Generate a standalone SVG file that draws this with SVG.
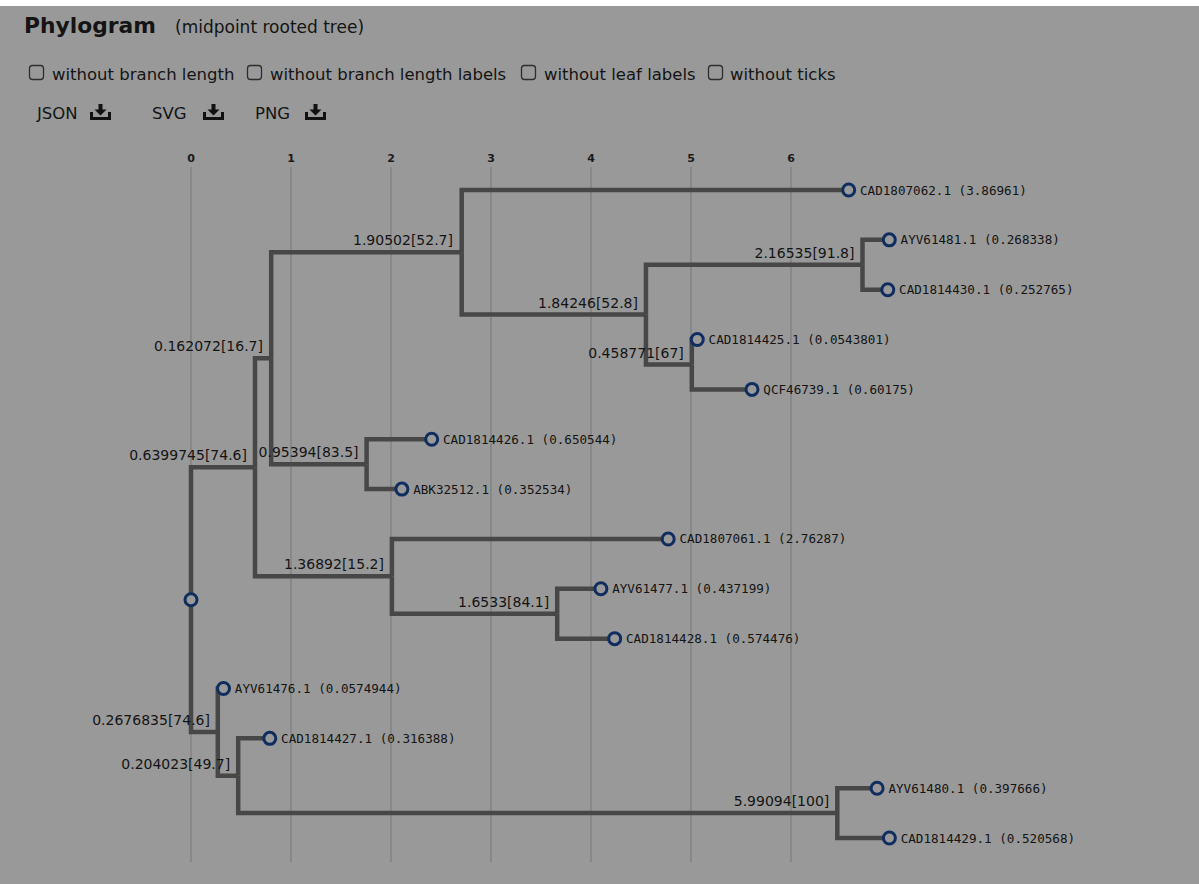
<svg xmlns="http://www.w3.org/2000/svg" width="1199" height="884" viewBox="0 0 1199 884">
<style>
.ui{font-family:"DejaVu Sans","Liberation Sans",sans-serif;fill:#141414}
.cb{fill:none;stroke:#2e2e2e;stroke-width:1.3}
.grid{stroke:#7c7c7c;stroke-width:1.2}
.tick{font-family:"DejaVu Sans","Liberation Sans",sans-serif;font-size:11px;font-weight:bold;fill:#1a1a1a;text-anchor:middle}
.br{fill:none;stroke:#474747;stroke-width:4.5;stroke-linejoin:miter}
.nd{fill:#999999;stroke:#0f2d5f;stroke-width:3}
.leaf{font-family:"DejaVu Sans Mono","Liberation Mono",monospace;font-size:12.6px;fill:#141414}
.bl{font-family:"DejaVu Sans","Liberation Sans",sans-serif;font-size:14px;fill:#141414;text-anchor:end}
.ic{fill:#111111}
</style>
<rect x="0" y="0" width="1199" height="884" fill="#999999"/>
<rect x="0" y="0" width="1199" height="6" fill="#ffffff"/>

<g id="header">
<text class="ui" x="24" y="33" font-size="21.8" font-weight="bold">Phylogram</text>
<text class="ui" x="175" y="33" font-size="17">(midpoint rooted tree)</text>
</g>
<g id="options" class="ui" font-size="16.5">
<rect class="cb" x="29.5" y="65.5" width="14" height="14" rx="3"/>
<text x="52" y="80">without branch length</text>
<rect class="cb" x="247.5" y="65.5" width="14" height="14" rx="3"/>
<text x="270" y="80">without branch length labels</text>
<rect class="cb" x="521.5" y="65.5" width="14" height="14" rx="3"/>
<text x="544" y="80">without leaf labels</text>
<rect class="cb" x="708.5" y="65.5" width="14" height="14" rx="3"/>
<text x="730" y="80">without ticks</text>
</g>
<defs>
<g id="dl">
<rect class="ic" x="8.5" y="0" width="4" height="6"/>
<polygon class="ic" points="4.5,5.5 16.5,5.5 10.5,11.5"/>
<path d="M1.5,8 V14.5 H19.5 V8" fill="none" stroke="#111111" stroke-width="3"/>
</g>
</defs>
<g id="downloads" class="ui" font-size="16.5">
<text x="37" y="119">JSON</text>
<use href="#dl" x="90" y="104"/>
<text x="152" y="119">SVG</text>
<use href="#dl" x="203" y="104"/>
<text x="255" y="119">PNG</text>
<use href="#dl" x="305" y="104"/>
</g>

<g id="axis">
<line class="grid" x1="191" y1="167" x2="191" y2="862"/>
<line class="grid" x1="291" y1="167" x2="291" y2="862"/>
<line class="grid" x1="391" y1="167" x2="391" y2="862"/>
<line class="grid" x1="491" y1="167" x2="491" y2="862"/>
<line class="grid" x1="591" y1="167" x2="591" y2="862"/>
<line class="grid" x1="691" y1="167" x2="691" y2="862"/>
<line class="grid" x1="791" y1="167" x2="791" y2="862"/>
<text class="tick" x="191" y="162">0</text>
<text class="tick" x="291" y="162">1</text>
<text class="tick" x="391" y="162">2</text>
<text class="tick" x="491" y="162">3</text>
<text class="tick" x="591" y="162">4</text>
<text class="tick" x="691" y="162">5</text>
<text class="tick" x="791" y="162">6</text>
</g>

<g id="connectors">
<path class="br" d="M191,599.7 V467.3 H255"/>
<path class="br" d="M191,599.7 V732.1 H217.8"/>
<path class="br" d="M255,467.3 V358.2 H271.2"/>
<path class="br" d="M255,467.3 V576.3 H391.9"/>
<path class="br" d="M271.2,358.2 V252.3 H461.7"/>
<path class="br" d="M271.2,358.2 V464.2 H366.6"/>
<path class="br" d="M461.7,252.3 V190 H848.7"/>
<path class="br" d="M461.7,252.3 V314.6 H645.95"/>
<path class="br" d="M645.95,314.6 V264.8 H862.5"/>
<path class="br" d="M645.95,314.6 V364.5 H691.8"/>
<path class="br" d="M862.5,264.8 V239.85 H889.3"/>
<path class="br" d="M862.5,264.8 V289.7 H887.8"/>
<path class="br" d="M691.8,364.5 V339.55 H697.3"/>
<path class="br" d="M691.8,364.5 V389.4 H752"/>
<path class="br" d="M366.6,464.2 V439.25 H431.7"/>
<path class="br" d="M366.6,464.2 V489.1 H401.9"/>
<path class="br" d="M391.9,576.3 V538.95 H668.2"/>
<path class="br" d="M391.9,576.3 V613.7 H557.2"/>
<path class="br" d="M557.2,613.7 V588.8 H600.9"/>
<path class="br" d="M557.2,613.7 V638.65 H614.7"/>
<path class="br" d="M217.8,732.1 V688.5 H223.5"/>
<path class="br" d="M217.8,732.1 V775.7 H238.2"/>
<path class="br" d="M238.2,775.7 V738.35 H269.8"/>
<path class="br" d="M238.2,775.7 V813.1 H837.3"/>
<path class="br" d="M837.3,813.1 V788.2 H877.1"/>
<path class="br" d="M837.3,813.1 V838.05 H889.4"/>
</g>

<g id="node-A"><text class="bl" x="247" y="460.3">0.6399745[74.6]</text></g>
<g id="node-B"><text class="bl" x="210" y="724.5">0.2676835[74.6]</text></g>
<g id="node-C"><text class="bl" x="263" y="351">0.162072[16.7]</text></g>
<g id="node-I"><text class="bl" x="384" y="569">1.36892[15.2]</text></g>
<g id="node-D"><text class="bl" x="453" y="245.3">1.90502[52.7]</text></g>
<g id="node-H"><text class="bl" x="358.6" y="457">0.95394[83.5]</text></g>
<g id="node-E"><text class="bl" x="638" y="307.6">1.84246[52.8]</text></g>
<g id="node-F"><text class="bl" x="854.5" y="257.8">2.16535[91.8]</text></g>
<g id="node-G"><text class="bl" x="683.8" y="357.5">0.458771[67]</text></g>
<g id="node-J"><text class="bl" x="549.2" y="606.7">1.6533[84.1]</text></g>
<g id="node-K"><text class="bl" x="230.2" y="768.5">0.204023[49.7]</text></g>
<g id="node-L"><text class="bl" x="829.3" y="806.1">5.99094[100]</text></g>

<g id="root"><circle class="nd" cx="191" cy="599.7" r="6"/></g>

<g id="leaf-CAD1807062"><circle class="nd" cx="848.7" cy="190" r="6"/><text class="leaf" x="860" y="194.5">CAD1807062.1 (3.86961)</text></g>
<g id="leaf-AYV61481"><circle class="nd" cx="889.3" cy="239.85" r="6"/><text class="leaf" x="900.6" y="244.3">AYV61481.1 (0.268338)</text></g>
<g id="leaf-CAD1814430"><circle class="nd" cx="887.8" cy="289.7" r="6"/><text class="leaf" x="899.1" y="294.2">CAD1814430.1 (0.252765)</text></g>
<g id="leaf-CAD1814425"><circle class="nd" cx="697.3" cy="339.55" r="6"/><text class="leaf" x="708.6" y="344">CAD1814425.1 (0.0543801)</text></g>
<g id="leaf-QCF46739"><circle class="nd" cx="752" cy="389.4" r="6"/><text class="leaf" x="763.3" y="393.9">QCF46739.1 (0.60175)</text></g>
<g id="leaf-CAD1814426"><circle class="nd" cx="431.7" cy="439.25" r="6"/><text class="leaf" x="443" y="443.7">CAD1814426.1 (0.650544)</text></g>
<g id="leaf-ABK32512"><circle class="nd" cx="401.9" cy="489.1" r="6"/><text class="leaf" x="413.2" y="493.6">ABK32512.1 (0.352534)</text></g>
<g id="leaf-CAD1807061"><circle class="nd" cx="668.2" cy="538.95" r="6"/><text class="leaf" x="679.5" y="543.4">CAD1807061.1 (2.76287)</text></g>
<g id="leaf-AYV61477"><circle class="nd" cx="600.9" cy="588.8" r="6"/><text class="leaf" x="612.2" y="593.3">AYV61477.1 (0.437199)</text></g>
<g id="leaf-CAD1814428"><circle class="nd" cx="614.7" cy="638.65" r="6"/><text class="leaf" x="626" y="643.1">CAD1814428.1 (0.574476)</text></g>
<g id="leaf-AYV61476"><circle class="nd" cx="223.5" cy="688.5" r="6"/><text class="leaf" x="234.8" y="693">AYV61476.1 (0.0574944)</text></g>
<g id="leaf-CAD1814427"><circle class="nd" cx="269.8" cy="738.35" r="6"/><text class="leaf" x="281.1" y="742.8">CAD1814427.1 (0.316388)</text></g>
<g id="leaf-AYV61480"><circle class="nd" cx="877.1" cy="788.2" r="6"/><text class="leaf" x="888.4" y="792.7">AYV61480.1 (0.397666)</text></g>
<g id="leaf-CAD1814429"><circle class="nd" cx="889.4" cy="838.05" r="6"/><text class="leaf" x="900.7" y="842.5">CAD1814429.1 (0.520568)</text></g>
</svg>
